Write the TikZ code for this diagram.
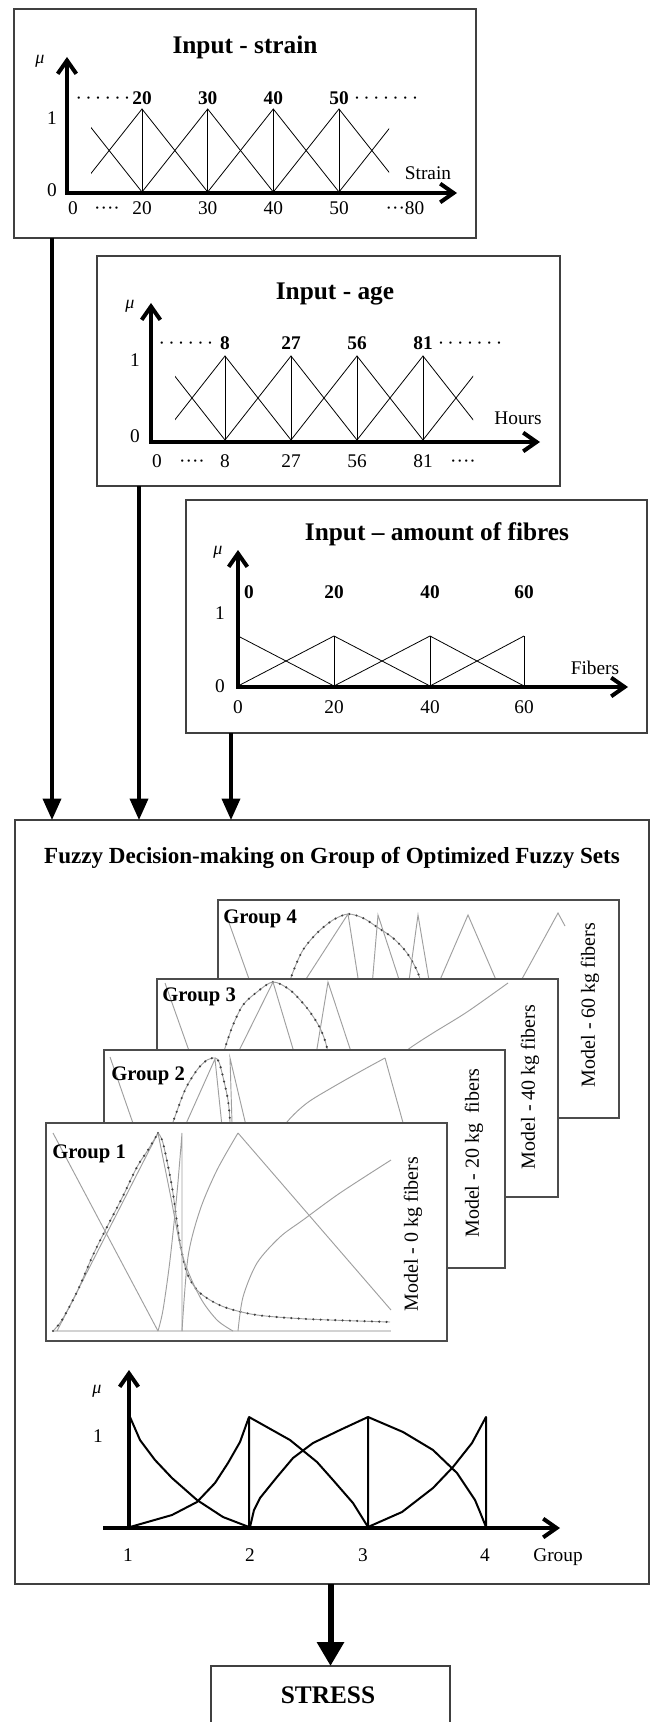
\documentclass[tikz,border=0pt]{standalone}
\usepackage{fontspec}
\setmainfont{Liberation Serif}
\usetikzlibrary{arrows.meta}
\tikzstyle{panel}=[draw=black!75, line width=.8pt, anchor=north west, inner sep=0pt, outer sep=0pt]
\tikzstyle{card}=[panel, fill=white, draw=black!70, minimum width=300.75pt, minimum height=163.5pt]
\tikzstyle{axis}=[line width=3pt, line join=miter, >={Straight Barb[length=10pt,width=14pt]}]
\tikzstyle{memb}=[line width=.6pt]
\tikzstyle{fuzz}=[line width=1.5pt, line join=round]
\tikzstyle{trace}=[gray!75, line width=.7pt]
\tikzstyle{dotted trace}=[trace, postaction={draw=black!75, line width=1.8pt, line cap=round, dash pattern=on 0pt off 5.5pt}]
\tikzstyle{flow}=[line width=2.6pt, -{Triangle[length=16pt,width=13.5pt]}]
\tikzstyle{flow big}=[line width=4.5pt, -{Triangle[length=18pt,width=19.5pt]}]
\tikzstyle{lbl}=[anchor=base, inner sep=0pt, font=\fontsize{14.5}{16}\selectfont]
\tikzstyle{lbl bold}=[lbl, font=\fontsize{14.5}{16}\selectfont\bfseries]
\tikzstyle{head text}=[anchor=base, inner sep=0pt, font=\fontsize{19}{21}\selectfont\bfseries]
\tikzstyle{mu}=[anchor=base, inner sep=0pt, font=\fontsize{13.5}{15}\selectfont\itshape]
\tikzstyle{group}=[anchor=base west, inner sep=0pt, font=\fontsize{15.5}{17}\selectfont\bfseries]
\tikzstyle{model}=[rotate=90, inner sep=0pt, font=\fontsize{15}{17}\selectfont]
\begin{document}
\begin{tikzpicture}[x=.75pt,y=-.75pt]
    \useasboundingbox (0,0) rectangle (651,1722);

    % Input - strain
    \draw (14,9) node[panel, minimum width=346.5pt, minimum height=171.75pt] (strain) {};
    \draw (245,54) node[head text] (strainT) {Input - strain};
    \begin{scope}
        \clip (91,100) rectangle (389,200);
        \draw[memb] (76.3,109) -- (142,192) -- (207.7,109) -- (273.3,192) -- (339,109) -- (404.7,192);
        \draw[memb] (76.3,192) -- (142,109) -- (207.7,192) -- (273.3,109) -- (339,192) -- (404.7,109);
    \end{scope}
    \foreach \x in {142,207.7,273.3,339} \draw[memb] (\x,109) -- (\x,192);
    \draw[axis,<->] (67,57) -- (67,193) -- (457,193);
    \draw (40,64) node[mu] (sMu) {μ};
    \draw (52,125) node[lbl] (sOne) {1};
    \draw (52,197) node[lbl] (sZero) {0};
    \draw (428,180) node[lbl] (sAx) {Strain};
    \draw (103,105) node[lbl] (sDl) {·\,·\,·\,·\,·\,·};
    \draw (386,105) node[lbl] (sDr) {·\,·\,·\,·\,·\,·\,·};
    \foreach \x/\t [count=\i] in {142/20,207.7/30,273.3/40,339/50}
        \draw (\x,105) node[lbl bold] (sp\i) {\t};
    \foreach \x/\t [count=\i] in {73/0,107/····,142/20,207.7/30,273.3/40,339/50,405/···80}
        \draw (\x,215) node[lbl] (sx\i) {\t};

    % Input - age
    \draw (97,256) node[panel, minimum width=347.25pt, minimum height=172.5pt] (age) {};
    \draw (335,300) node[head text] (ageT) {Input - age};
    \begin{scope}
        \clip (175,345) rectangle (473,445);
        \draw[memb] (159,356) -- (225,440) -- (291,356) -- (357,440) -- (423,356) -- (489,440);
        \draw[memb] (159,440) -- (225,356) -- (291,440) -- (357,356) -- (423,440) -- (489,356);
    \end{scope}
    \foreach \x in {225,291,357,423} \draw[memb] (\x,356) -- (\x,440);
    \draw[axis,<->] (151,303) -- (151,442) -- (540,442);
    \draw (130,309) node[mu] (aMu) {μ};
    \draw (135,367) node[lbl] (aOne) {1};
    \draw (135,442) node[lbl] (aZero) {0};
    \draw (518,424) node[lbl] (aAx) {Hours};
    \draw (186,350) node[lbl] (aDl) {·\,·\,·\,·\,·\,·};
    \draw (470,350) node[lbl] (aDr) {·\,·\,·\,·\,·\,·\,·};
    \foreach \x/\t [count=\i] in {225/8,291/27,357/56,423/81}
        \draw (\x,350) node[lbl bold] (ap\i) {\t};
    \foreach \x/\t [count=\i] in {157/0,192/····,225/8,291/27,357/56,423/81,463/····}
        \draw (\x,467) node[lbl] (ax\i) {\t};

    % Input - amount of fibres
    \draw (186,500) node[panel, minimum width=345.75pt, minimum height=174.75pt] (fibres) {};
    \draw (437,540) node[head text] (fibresT) {Input – amount of fibres};
    \draw[memb] (238,636) -- (334,686) -- (430,636) -- (524,686);
    \draw[memb] (238,686) -- (334,636) -- (430,686) -- (524,636);
    \foreach \x in {334,430,524} \draw[memb] (\x,636) -- (\x,686);
    \draw[axis,<->] (238,550) -- (238,687) -- (628,687);
    \draw (218,554) node[mu] (fMu) {μ};
    \draw (220,619) node[lbl] (fOne) {1};
    \draw (220,692) node[lbl] (fZero) {0};
    \draw (595,674) node[lbl] (fAx) {Fibers};
    \foreach \x/\t [count=\i] in {249/0,334/20,430/40,524/60}
        \draw (\x,598) node[lbl bold] (fp\i) {\t};
    \foreach \x/\t [count=\i] in {238/0,334/20,430/40,524/60}
        \draw (\x,713) node[lbl] (fx\i) {\t};

    % Decision block
    \draw (15,820) node[panel, minimum width=475.5pt, minimum height=573pt] (fuzzy) {};
    \draw (332,863) node[head text, font=\fontsize{17.3}{19}\selectfont\bfseries] (fuzzyT) {Fuzzy Decision-making on Group of Optimized Fuzzy Sets};

    % Inputs
    \coordinate (a1) at ([xshift=28.5pt]strain.south west);
    \coordinate (a2) at ([xshift=31.5pt]age.south west);
    \coordinate (a3) at ([xshift=33.75pt]fibres.south west);
    \draw[flow] (a1) -- (a1 |- fuzzy.north);
    \draw[flow] (a2) -- (a2 |- fuzzy.north);
    \draw[flow] (a3) -- (a3 |- fuzzy.north);

    % Group 4
    \begin{scope}[shift={(218,900)}]
        \draw (0,0) node[card] (card4) {};
        \draw[trace] (9,17) -- (42,110);
        \draw[dotted trace] plot[smooth] coordinates {(62,110) (75,72) (85,50) (99,33) (115,20) (130,14) (145,18) (159,27) (175,38) (189,53) (200,73) (208,100)};
        \draw[trace] (68,110) -- (130,14) -- (145,110);
        \draw[trace] (152,110) -- (160,15) -- (191,110);
        \draw[trace] (187,110) -- (200,15) -- (216,110);
        \draw[trace] (209,110) -- (250,15) -- (291,110);
        \draw[trace] (287,110) -- (340,13) -- (347,26);
        \draw (5,23) node[group] (g4) {Group 4};
        \draw (372,105) node[model] (m4) {Model - 60 kg fibers};
    \end{scope}

    % Group 3
    \begin{scope}[shift={(157,979)}]
        \draw (0,0) node[card] (card3) {};
        \draw[trace] (8,4) -- (42,100);
        \draw[dotted trace] plot[smooth] coordinates {(58,100) (68,69) (76,46) (86,26) (100,13) (116,3) (133,11) (150,29) (163,49) (170,69) (174,100)};
        \draw[trace] (68,100) -- (116,3) -- (145,100);
        \draw[trace] (155,100) -- (171,3) -- (203,100);
        \draw[trace] plot[smooth] coordinates {(225,90) (253,69) (276,54) (310,33) (351,4)};
        \draw (5,22) node[group] (g3) {Group 3};
        \draw (373,108) node[model] (m3) {Model - 40 kg fibers};
    \end{scope}

    % Group 2
    \begin{scope}[shift={(104,1050)}]
        \draw (0,0) node[card] (card2) {};
        \draw[trace] (6,7) -- (40,105);
        \draw[dotted trace] plot[smooth] coordinates {(55,110) (69,72) (81,40) (93,20) (103,10) (111,8) (115,12) (119,27) (124,50) (126,72) (127,105)};
        \draw[trace] (68,105) -- (111,9) -- (121,105);
        \draw[trace] (129,105) -- (126,8) -- (149,105);
        \draw[trace] plot[smooth] coordinates {(160,105) (183,72) (203,53) (229,37) (259,20) (281,8)};
        \draw[trace] (281,8) -- (308,105);
        \draw (7,30) node[group] (g2) {Group 2};
        \draw (370,103) node[model] (m2) {Model - 20 kg~ fibers};
    \end{scope}

    % Group 1
    \begin{scope}[shift={(46,1123)}]
        \draw (0,0) node[card] (card1) {};
        \draw[gray!35, line width=2.2pt] (7,208) -- (345,208);
        \draw[trace] (7,10) -- (112,208);
        \draw[trace] (11,208) -- (112,10);
        \draw[dotted trace] plot[smooth] coordinates {(7,208) (16,197) (31,169) (47,132) (62,102) (76,75) (91,44) (102,27) (112,10)};
        \draw[dotted trace] plot[smooth] coordinates {(112,10) (117,20) (126,64) (134,120) (141,150) (151,167) (164,177) (181,185) (211,192) (261,196) (344,199)};
        \draw[trace] plot[smooth] coordinates {(112,10) (124,70) (137,134) (154,174) (171,197) (187,208)};
        \draw[trace] plot[smooth] coordinates {(112,208) (117,187) (124,137) (131,70) (136,10)} -- (136,208);
        \draw[trace] plot[smooth] coordinates {(136,208) (142,134) (154,87) (171,47) (192,10)};
        \draw[trace] (192,10) -- (345,187);
        \draw[trace] plot[smooth] coordinates {(192,208) (197,174) (211,140) (234,114) (257,97) (294,70) (345,37)};
        \draw (6,35) node[group] (g1) {Group 1};
        \draw (367,111) node[model] (m1) {Model - 0 kg fibers};
    \end{scope}

    % Output sets
    \draw[fuzz] (130,1417) -- (140,1440) -- (155,1460) -- (172,1478) -- (197,1500) -- (223,1517) -- (249,1527);
    \draw[fuzz] (130,1527) -- (172,1515) -- (197,1502) -- (215,1483) -- (228,1463) -- (240,1442) -- (249,1417) -- (249,1527);
    \draw[fuzz] (249,1417) -- (290,1440) -- (317,1462) -- (333,1480) -- (353,1503) -- (368,1527);
    \draw[fuzz] (250,1527) -- (254,1510) -- (260,1498) -- (277,1477) -- (293,1458) -- (313,1443) -- (340,1430) -- (368,1417) -- (368,1527);
    \draw[fuzz] (368,1417) -- (403,1432) -- (433,1450) -- (457,1473) -- (475,1500) -- (480,1512) -- (486,1527);
    \draw[fuzz] (368,1527) -- (402,1512) -- (433,1488) -- (453,1467) -- (472,1443) -- (486,1417) -- (486,1527);
    \draw[axis,->] (129,1528) -- (129,1370);
    \draw[axis,->] (103,1528) -- (560,1528);
    \draw (97,1393) node[mu] (gMu) {μ};
    \draw (98,1442) node[lbl] (gOne) {1};
    \foreach \x/\t [count=\i] in {128/1,250/2,363/3,485/4}
        \draw (\x,1561) node[lbl] (gx\i) {\t};
    \draw (558,1561) node[lbl] (gAx) {Group};

    % Output
    \draw (211,1666) node[panel, minimum width=179.25pt, minimum height=45pt] (stress) {};
    \draw (328,1703) node[head text] (stressT) {STRESS};
    \draw[flow big] (stress.north |- fuzzy.south) -- (stress.north);
\end{tikzpicture}
\end{document}
